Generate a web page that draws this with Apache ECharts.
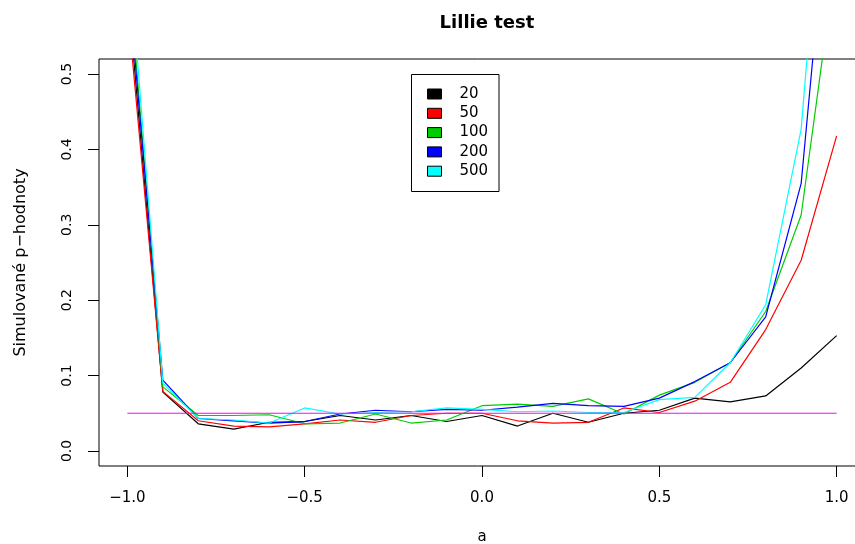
<!DOCTYPE html>
<html>
<head>
<meta charset="utf-8">
<script src="https://cdn.jsdelivr.net/npm/echarts@6/dist/echarts.min.js"></script>
<style>
html,body{margin:0;padding:0;background:#fff;}
#chart{width:855px;height:544px;}
</style>
</head>
<body>
<div id="chart"></div>
<script>
var xValues = [-1.0, -0.9, -0.8, -0.7, -0.6, -0.5, -0.4, -0.3, -0.2, -0.1, 0.0, 0.1, 0.2, 0.3, 0.4, 0.5, 0.6, 0.7, 0.8, 0.9, 1.0];
var p20  = [0.616, 0.078, 0.036, 0.029, 0.038, 0.039, 0.047, 0.041, 0.047, 0.039, 0.047, 0.033, 0.050, 0.038, 0.050, 0.054, 0.070, 0.065, 0.073, 0.110, 0.153];
var p50  = [0.593, 0.079, 0.040, 0.033, 0.032, 0.036, 0.041, 0.038, 0.047, 0.050, 0.050, 0.040, 0.037, 0.038, 0.057, 0.051, 0.066, 0.091, 0.161, 0.253, 0.418];
var p100 = [0.657, 0.085, 0.047, 0.047, 0.048, 0.036, 0.037, 0.049, 0.037, 0.041, 0.060, 0.062, 0.059, 0.069, 0.049, 0.074, 0.091, 0.117, 0.185, 0.313, 0.660];
var p200 = [0.635, 0.094, 0.043, 0.040, 0.037, 0.039, 0.049, 0.054, 0.052, 0.055, 0.054, 0.058, 0.063, 0.060, 0.059, 0.070, 0.092, 0.117, 0.178, 0.355, 0.860];
var p500 = [0.689, 0.090, 0.043, 0.041, 0.037, 0.057, 0.049, 0.051, 0.052, 0.057, 0.055, 0.052, 0.053, 0.051, 0.051, 0.068, 0.071, 0.117, 0.194, 0.427, 1.000];
var seriesNames = ['20', '50', '100', '200', '500'];
var seriesColors = ['#000000', '#ff0000', '#00cd00', '#0000ff', '#00ffff'];
var refX = [-1.0, 1.0];
var refLevel = 0.05;
var xTicks = [-1.0, -0.5, 0.0, 0.5, 1.0];
var yTicks = [0.0, 0.1, 0.2, 0.3, 0.4, 0.5];

var allSeries = [p20, p50, p100, p200, p500];
function fmt(v) { return v.toFixed(1).replace('-', '\u2212'); }

var series = allSeries.map(function (vals, k) {
  return {
    name: seriesNames[k],
    type: 'line',
    showSymbol: false,
    symbol: 'none',
    clip: true,
    color: seriesColors[k],
    lineStyle: { color: seriesColors[k], width: 1.2 },
    data: xValues.map(function (x, i) { return [x, vals[i]]; }),
    z: 2 + k
  };
});
series.push({
  name: 'ref',
  type: 'line',
  showSymbol: false,
  symbol: 'none',
  color: '#ff00ff',
  lineStyle: { color: '#ff00ff', width: 1.2 },
  data: refX.map(function (x) { return [x, refLevel]; }),
  z: 10
});

var chart = echarts.init(document.getElementById('chart'));
chart.setOption({
  animation: false,
  backgroundColor: '#fff',
  title: {
    text: 'Lillie test',
    left: 482, top: 9,
    textAlign: 'center',
    textStyle: { fontFamily: 'DejaVu Sans', fontWeight: 'bold', fontSize: 18, color: '#000' }
  },
  grid: {
    left: 99, top: 59, right: -10, bottom: 78,
    show: true, borderColor: '#000', borderWidth: 1,
    outerBoundsMode: 'none', containLabel: false
  },
  legend: {
    orient: 'vertical',
    left: 427, top: 86,
    padding: 0,
    itemGap: 3.3,
    itemWidth: 14, itemHeight: 10,
    icon: 'rect',
    data: seriesNames,
    itemStyle: { borderColor: '#000', borderWidth: 1 },
    textStyle: { fontFamily: 'DejaVu Sans', fontSize: 15, color: '#000', lineHeight: 16, padding: [0, 0, 0, 13] }
  },
  graphic: [{
    type: 'rect',
    shape: { x: 411.5, y: 74.5, width: 87.5, height: 117 },
    style: { fill: 'none', stroke: '#000', lineWidth: 1 },
    silent: true
  }],
  xAxis: {
    type: 'value',
    min: -1.08, max: 1.08,
    name: 'a', nameLocation: 'middle', nameGap: 64,
    nameTextStyle: { fontFamily: 'DejaVu Sans', fontSize: 15, color: '#000' },
    axisLine: { show: false, onZero: false },
    splitLine: { show: false },
    axisTick: { show: true, length: 11, customValues: xTicks, lineStyle: { color: '#000' } },
    axisLabel: { customValues: xTicks, margin: 25, formatter: fmt,
      fontFamily: 'DejaVu Sans', fontSize: 15, color: '#000' }
  },
  yAxis: {
    type: 'value',
    min: -0.02, max: 0.52,
    name: 'Simulovan\u00e9 p\u2212hodnoty', nameLocation: 'middle', nameGap: 70, nameRotate: 90,
    nameTextStyle: { fontFamily: 'DejaVu Sans', fontSize: 16, color: '#000' },
    axisLine: { show: false, onZero: false },
    splitLine: { show: false },
    axisTick: { show: true, length: 11, customValues: yTicks, lineStyle: { color: '#000' } },
    axisLabel: { customValues: yTicks, margin: 25, rotate: 90, formatter: fmt,
      fontFamily: 'DejaVu Sans', fontSize: 14, color: '#000' }
  },
  series: series
});
</script>
</body>
</html>
